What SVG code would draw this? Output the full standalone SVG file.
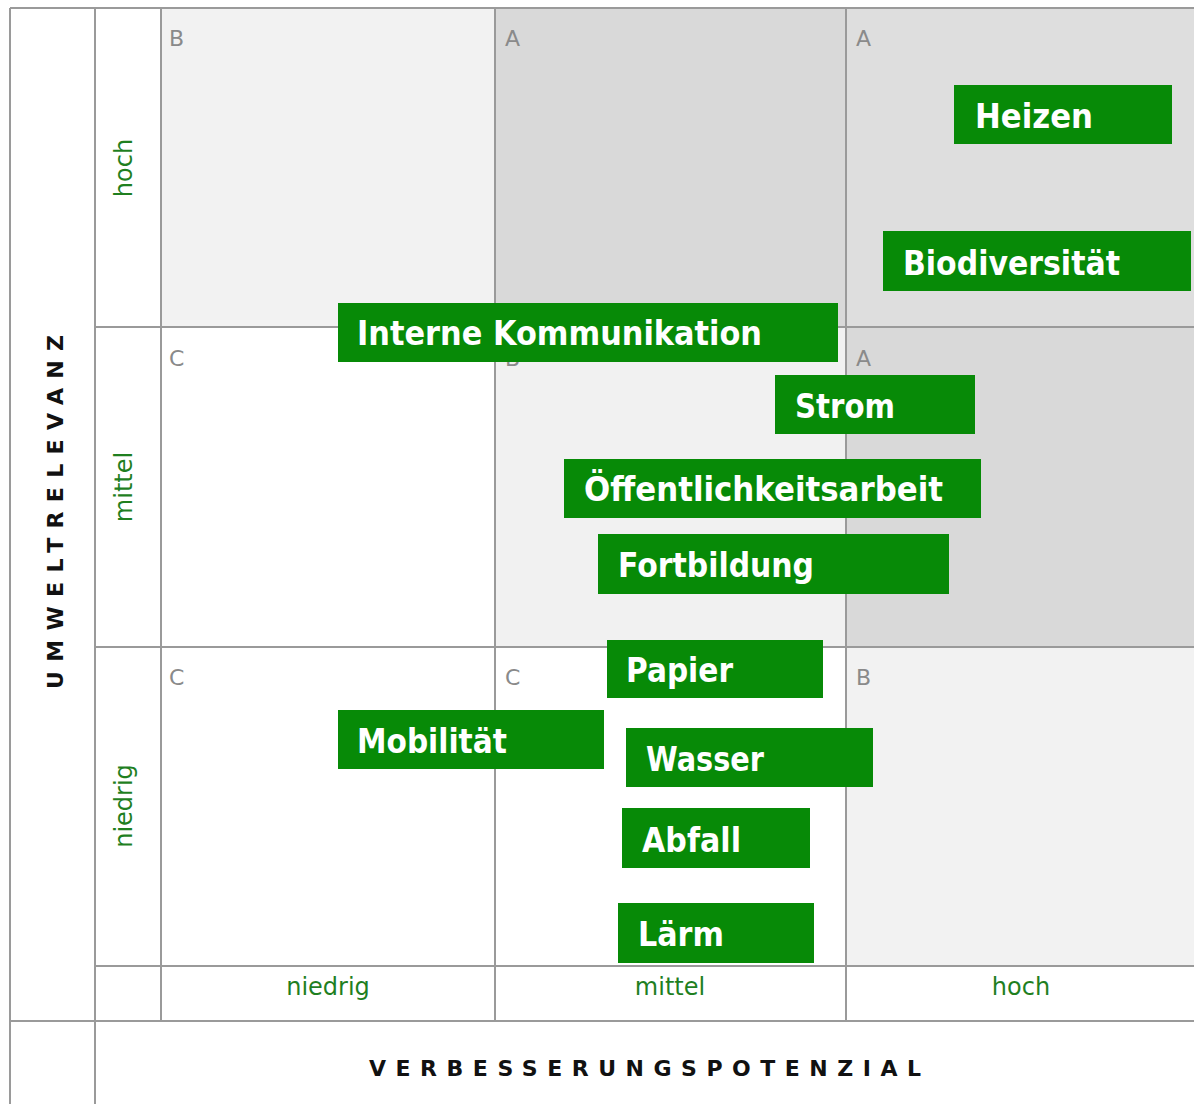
<svg xmlns="http://www.w3.org/2000/svg" width="1194" height="1104" viewBox="0 0 1194 1104">
<style>
.grid{stroke:#9a9a9a;stroke-width:2;fill:none}
.cl{font-family:"DejaVu Sans",Verdana,sans-serif;font-size:22px;fill:#8a8a8a}
.lvl{font-family:"DejaVu Sans",Verdana,sans-serif;font-size:24px;fill:#1f7f1f;text-anchor:middle}
.axis{font-family:"DejaVu Sans",Verdana,sans-serif;font-size:22px;font-weight:bold;fill:#111;text-anchor:middle}
.box rect{fill:#078a07}
.box text{font-family:"DejaVu Sans",Verdana,sans-serif;font-size:33px;font-weight:bold;fill:#fff}
</style>
<rect width="1194" height="1104" fill="#fff"/>
<g id="cells">
<rect x="161" y="8" width="334" height="319" fill="#f2f2f2"/>
<rect x="495" y="8" width="351" height="319" fill="#d9d9d9"/>
<rect x="846" y="8" width="348" height="319" fill="#dedede"/>
<rect x="495" y="327" width="351" height="320" fill="#f1f1f1"/>
<rect x="846" y="327" width="348" height="320" fill="#d9d9d9"/>
<rect x="846" y="647" width="348" height="319" fill="#f2f2f2"/>
</g>
<g id="grid" class="grid">
<line x1="10" y1="8" x2="1194" y2="8"/>
<line x1="10" y1="8" x2="10" y2="1104"/>
<line x1="95" y1="8" x2="95" y2="1104"/>
<line x1="161" y1="8" x2="161" y2="1021"/>
<line x1="495" y1="8" x2="495" y2="1021"/>
<line x1="846" y1="8" x2="846" y2="1021"/>
<line x1="95" y1="327" x2="1194" y2="327"/>
<line x1="95" y1="647" x2="1194" y2="647"/>
<line x1="95" y1="966" x2="1194" y2="966"/>
<line x1="10" y1="1021" x2="1194" y2="1021"/>
</g>
<g id="cell-letters">
<text class="cl" x="169" y="46">B</text>
<text class="cl" x="505" y="46">A</text>
<text class="cl" x="856" y="46">A</text>
<text class="cl" x="169" y="366">C</text>
<text class="cl" x="505" y="366">B</text>
<text class="cl" x="856" y="366">A</text>
<text class="cl" x="169" y="685">C</text>
<text class="cl" x="505" y="685">C</text>
<text class="cl" x="856" y="685">B</text>
</g>
<g id="row-labels">
<text class="lvl" transform="translate(132,168) rotate(-90)">hoch</text>
<text class="lvl" transform="translate(132,487) rotate(-90)">mittel</text>
<text class="lvl" transform="translate(132,806) rotate(-90)">niedrig</text>
</g>
<g id="col-labels">
<text class="lvl" x="328" y="995">niedrig</text>
<text class="lvl" x="670" y="995">mittel</text>
<text class="lvl" x="1021" y="995">hoch</text>
</g>
<g id="axis-titles">
<text class="axis" transform="translate(63,512) rotate(-90)" textLength="354" lengthAdjust="spacing">UMWELTRELEVANZ</text>
<text class="axis" x="645" y="1076" textLength="552" lengthAdjust="spacing">VERBESSERUNGSPOTENZIAL</text>
</g>
<g id="nodes">
<g id="n-heizen" class="box"><rect x="954" y="85" width="218" height="59"/><text x="975" y="128" textLength="118" lengthAdjust="spacingAndGlyphs">Heizen</text></g>
<g id="n-biodiversitaet" class="box"><rect x="883" y="231" width="308" height="60"/><text x="903" y="275" textLength="217" lengthAdjust="spacingAndGlyphs">Biodiversität</text></g>
<g id="n-interne" class="box"><rect x="338" y="303" width="500" height="59"/><text x="357" y="345" textLength="405" lengthAdjust="spacingAndGlyphs">Interne Kommunikation</text></g>
<g id="n-strom" class="box"><rect x="775" y="375" width="200" height="59"/><text x="795" y="418" textLength="100" lengthAdjust="spacingAndGlyphs">Strom</text></g>
<g id="n-oeffentlichkeit" class="box"><rect x="564" y="459" width="417" height="59"/><text x="584" y="501" textLength="359" lengthAdjust="spacingAndGlyphs">Öffentlichkeitsarbeit</text></g>
<g id="n-fortbildung" class="box"><rect x="598" y="534" width="351" height="60"/><text x="618" y="577" textLength="196" lengthAdjust="spacingAndGlyphs">Fortbildung</text></g>
<g id="n-papier" class="box"><rect x="607" y="640" width="216" height="58"/><text x="626" y="682" textLength="107" lengthAdjust="spacingAndGlyphs">Papier</text></g>
<g id="n-mobilitaet" class="box"><rect x="338" y="710" width="266" height="59"/><text x="357" y="753" textLength="150" lengthAdjust="spacingAndGlyphs">Mobilität</text></g>
<g id="n-wasser" class="box"><rect x="626" y="728" width="247" height="59"/><text x="646" y="771" textLength="118" lengthAdjust="spacingAndGlyphs">Wasser</text></g>
<g id="n-abfall" class="box"><rect x="622" y="808" width="188" height="60"/><text x="642" y="852" textLength="99" lengthAdjust="spacingAndGlyphs">Abfall</text></g>
<g id="n-laerm" class="box"><rect x="618" y="903" width="196" height="60"/><text x="638" y="946" textLength="86" lengthAdjust="spacingAndGlyphs">Lärm</text></g>
</g>
<g id="connectors"/>
</svg>
